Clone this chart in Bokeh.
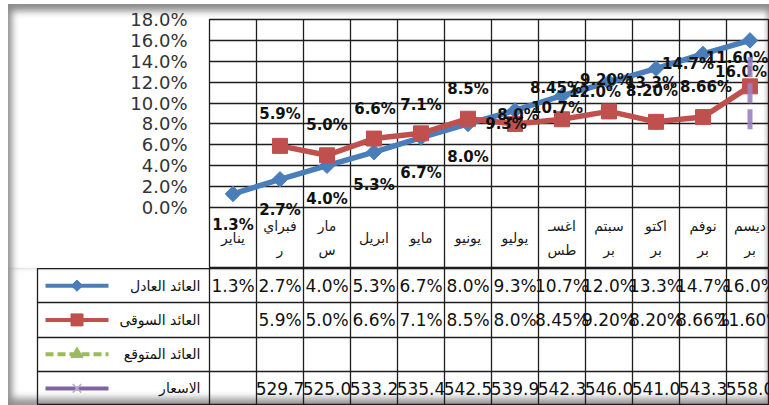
import numpy as np
from bokeh.plotting import figure
from bokeh.models import ColumnDataSource, Range1d, FixedTicker, PrintfTickFormatter, Grid
from bokeh.embed import file_html
from bokeh.resources import INLINE
from bokeh.core.properties import value

# ---------------- data ----------------
months = ["يناير", "فبراي\nر", "مار\nس", "ابريل", "مايو", "يونيو", "يوليو",
          "اغسـ\nطس", "سبتم\nبر", "اكتو\nبر", "نوفم\nبر", "ديسم\nبر"]
fair_return = [1.3, 2.7, 4.0, 5.3, 6.7, 8.0, 9.3, 10.7, 12.0, 13.3, 14.7, 16.0]
market_return = [None, 5.9, 5.0, 6.6, 7.1, 8.5, 8.0, 8.45, 9.20, 8.20, 8.66, 11.60]
market_decimals = [None, 1, 1, 1, 1, 1, 1, 2, 2, 2, 2, 2]
expected_return = [None] * 12
prices = [None, 529.7, 525.0, 533.2, 535.4, 542.5, 539.9, 542.3, 546.0, 541.0, 543.3, 558.0]
dec_price_marker = [7.5, 14.6]   # purple dashed mark seen in the December column
series_names = ["العائد العادل", "العائد السوقى", "العائد المتوقع", "الاسعار"]
y_ticks = [0, 2, 4, 6, 8, 10, 12, 14, 16, 18]

# ---------------- styles / label placement (px) ----------------
BLUE, RED, GREEN, PURPLE = "#4A7EBB", "#C0504D", "#9BBB59", "#9A82C4"
GRID = "#1e1e1e"
fair_dx = [0, 0, 0, 0, 0, 0, -9, -5, -14, -5, -15, -9]
fair_dy = [31, 31, 33, 33, 35, 33, 14, 12, 10, 14, 10, 32]
market_dx = [0, 0, 0, 1, 0, 0, 3, -6, -3, -4, 3, -13]
market_dy = [0, -32, -30, -30, -28, -30, -9, -31, -31, -31, -30, -28]

# ---------------- geometry ----------------
W = 761
COL = 47.0
PLOT_LEFT = 201
TABLE_LEFT = 29
TOP_H = 264
TOP_BORDER = 15
PLOT_H = 188
TABLE_H = 137
x_end = -0.5 + (W - PLOT_LEFT) / COL
xb_start = x_end - (W - TABLE_LEFT) / COL
px_per_pct = PLOT_H / 18.0
y_min = -(TOP_H - TOP_BORDER - PLOT_H) / px_per_pct

idx = list(range(len(months)))

# ---------------- chart figure ----------------
pA = figure(width=W, height=TOP_H, x_range=Range1d(-0.5, x_end), y_range=Range1d(y_min, 18),
            x_axis_location=None, output_backend="svg", toolbar_location=None,
            min_border_left=PLOT_LEFT, min_border_right=0, min_border_top=TOP_BORDER,
            min_border_bottom=0, background_fill_color=None, border_fill_color=None,
            outline_line_color=GRID, outline_line_width=1.3,
            styles={"margin-left": "8px", "margin-top": "4px",
                    "box-shadow": "inset 7px 10px 7px -3px #8c8c8c, inset -5px 0px 5px -3px #b0b0b0"})
for g in pA.grid:
    g.visible = False
pA.add_layout(Grid(dimension=0, ticker=FixedTicker(ticks=[i - 0.5 for i in range(13)]),
                   grid_line_color=GRID, grid_line_width=1.3))
pA.add_layout(Grid(dimension=1, ticker=FixedTicker(ticks=y_ticks),
                   grid_line_color=GRID, grid_line_width=1.3))

ax = pA.yaxis[0]
ax.ticker = FixedTicker(ticks=y_ticks)
ax.formatter = PrintfTickFormatter(format="%.1f%%")
ax.axis_line_color = None
ax.major_tick_line_color = None
ax.minor_tick_line_color = None
ax.major_tick_in = 0
ax.major_tick_out = 0
ax.major_label_standoff = 22
ax.major_label_text_font = "DejaVu Sans"
ax.major_label_text_font_size = "18px"
ax.major_label_text_color = "#333333"

fair_src = ColumnDataSource(dict(x=idx, y=fair_return,
                                 label=[f"{v:.1f}%" for v in fair_return],
                                 dx=fair_dx, dy=fair_dy))
m_idx = [i for i in idx if market_return[i] is not None]
market_src = ColumnDataSource(dict(
    x=m_idx, y=[market_return[i] for i in m_idx],
    label=[f"{market_return[i]:.{market_decimals[i]}f}%" for i in m_idx],
    dx=[market_dx[i] for i in m_idx], dy=[market_dy[i] for i in m_idx]))

pA.line("x", "y", source=fair_src, line_color=BLUE, line_width=5.5)
pA.scatter("x", "y", source=fair_src, marker="square", angle=np.pi / 4, size=11,
           fill_color=BLUE, line_color=BLUE)
pA.line("x", "y", source=market_src, line_color=RED, line_width=5.5)
pA.scatter("x", "y", source=market_src, marker="square", size=15,
           fill_color=RED, line_color=RED)

lbl_kw = dict(text_font=value("DejaVu Sans"), text_font_style="bold", text_font_size="15px",
              text_align="center", text_baseline="middle", text_color="#111111")
pA.text("x", "y", text="label", x_offset="dx", y_offset="dy", source=fair_src, **lbl_kw)
pA.text("x", "y", text="label", x_offset="dx", y_offset="dy", source=market_src, **lbl_kw)

pA.line(x=[idx[-1], idx[-1]], y=dec_price_marker, line_color=PURPLE, line_width=5,
        line_dash="20 6", line_alpha=0.9)

pA.text(x=idx, y=[y_min / 2] * len(idx), text=months, text_font=value("DejaVu Sans"),
        text_font_size="14px", text_align="center", text_baseline="middle",
        text_color="#1a1a1a", text_line_height=1.5)

# ---------------- data table figure ----------------
pB = figure(width=W, height=TABLE_H, x_range=Range1d(xb_start, x_end), y_range=Range1d(4, 0),
            x_axis_location=None, y_axis_location=None, output_backend="svg",
            toolbar_location=None, min_border_left=TABLE_LEFT, min_border_right=0,
            min_border_top=0, min_border_bottom=0, background_fill_color=None,
            border_fill_color=None, outline_line_color=GRID, outline_line_width=1.3,
            styles={"margin-left": "8px",
                    "box-shadow": "inset 7px 0px 7px -3px #8c8c8c, inset 0px -10px 7px -3px #9a9a9a, "
                                  "inset -5px 0px 5px -3px #b0b0b0"})
for g in pB.grid:
    g.visible = False
pB.add_layout(Grid(dimension=0, ticker=FixedTicker(ticks=[i - 0.5 for i in range(13)]),
                   grid_line_color=GRID, grid_line_width=1.3))
pB.add_layout(Grid(dimension=1, ticker=FixedTicker(ticks=[1, 2, 3]),
                   grid_line_color=GRID, grid_line_width=1.3))

cell_kw = dict(text_font=value("DejaVu Sans"), text_font_size="17px", text_align="center",
               text_baseline="middle", text_color="#111111")
pB.text(x=idx, y=[0.5] * len(idx), text=[f"{v:.1f}%" for v in fair_return], **cell_kw)
pB.text(x=m_idx, y=[1.5] * len(m_idx),
        text=[f"{market_return[i]:.{market_decimals[i]}f}%" for i in m_idx], **cell_kw)
p_idx = [i for i in idx if prices[i] is not None]
pB.text(x=p_idx, y=[3.5] * len(p_idx), text=[f"{prices[i]:.1f}" for i in p_idx], **cell_kw)

# legend keys in the first column of the table
lx0 = -0.5 - (209 - 45) / COL
lx1 = -0.5 - (209 - 108) / COL
lxm = (lx0 + lx1) / 2
ltx = -0.5 - 9 / COL
rows = [0.5, 1.5, 2.5, 3.5]
pB.line([lx0, lx1], [rows[0]] * 2, line_color=BLUE, line_width=4)
pB.scatter([lxm], [rows[0]], marker="square", angle=np.pi / 4, size=8, color=BLUE)
pB.line([lx0, lx1], [rows[1]] * 2, line_color=RED, line_width=4)
pB.scatter([lxm], [rows[1]], marker="square", size=12, color=RED)
pB.line([lx0, lx1], [rows[2]] * 2, line_color=GREEN, line_width=4, line_dash="8 4")
pB.scatter([lxm], [rows[2]], marker="triangle", size=12, color=GREEN)
pB.line([lx0, lx1], [rows[3]] * 2, line_color="#8064A2", line_width=4)
pB.scatter([lxm], [rows[3]], marker="x", size=12, line_color="#B8ABCB", line_width=1.5)
pB.text(x=[ltx] * 4, y=rows, text=series_names, text_font=value("DejaVu Sans"),
        text_font_size="14px", text_align="right", text_baseline="middle",
        text_color="#111111")

open("out.html", "w").write(file_html([pA, pB], INLINE))
